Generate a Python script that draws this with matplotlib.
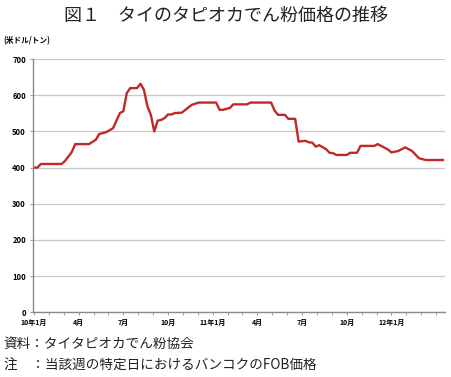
import matplotlib
matplotlib.use("Agg")
import matplotlib.pyplot as plt
from matplotlib.ticker import FixedLocator, NullFormatter

plt.rcParams['font.family'] = ['Noto Sans CJK JP', 'DejaVu Sans']

# weeks since the first week of January 2010
weeks = [0, 1, 2, 8, 9, 11, 12, 16, 18, 19, 21, 23, 25, 26, 27, 28, 30, 31, 32, 33,
         34, 35, 36, 37, 38, 39, 40, 41, 43, 45, 46, 48, 53, 54, 55, 57, 58, 62, 63,
         69, 70, 71, 73, 74, 76, 77, 79, 80, 81, 82, 83, 85, 86, 87, 88, 91, 92, 94,
         95, 99, 100, 101, 103, 104, 106, 108, 110, 112, 114, 119]
prices = [400, 400, 410, 410, 418, 443, 465, 465, 477, 493, 498, 509, 551, 556, 606,
          620, 620, 632, 615, 570, 546, 500, 530, 532, 537, 547, 547, 551, 552, 567,
          574, 580, 580, 560, 560, 565, 575, 575, 580, 580, 558, 546, 546, 535, 535,
          472, 474, 470, 469, 458, 462, 451, 441, 440, 435, 435, 441, 441, 460, 460,
          465, 460, 450, 442, 446, 456, 446, 426, 421, 421]

tick_weeks = [0, 13, 26, 39, 52, 65, 78, 91, 104]
tick_labels = ["10年1月", "4月", "7月", "10月", "11年1月", "4月", "7月", "10月", "12年1月"]
month_weeks = [i * 52 / 12 for i in range(28)]

yticks = [0, 100, 200, 300, 400, 500, 600, 700]

fig = plt.figure(figsize=(4.51, 3.77), dpi=100)
ax = fig.add_axes([0.073, 0.172, 0.913, 0.671])

ax.plot(weeks, prices, color="#C0282A", lw=1.7, solid_joinstyle="round")

ax.set_ylim(0, 700)
ax.set_xlim(-0.3, 119.5)
ax.set_yticks(yticks)
ax.yaxis.grid(True, color="#C8C8C8", lw=0.9)
ax.set_axisbelow(True)
for s in ["top", "right"]:
    ax.spines[s].set_visible(False)
ax.spines["left"].set_color("#8A8A8A")
ax.spines["bottom"].set_color("#8A8A8A")
ax.spines["left"].set_linewidth(1.0)
ax.spines["bottom"].set_linewidth(1.0)

narrow = ['Liberation Sans Narrow', 'Noto Sans CJK JP', 'DejaVu Sans']
ax.set_yticklabels([str(v) for v in yticks], family=narrow, fontsize=5.5, fontweight="bold")
ax.tick_params(axis="y", length=2, width=0.6, color="#8A8A8A", pad=3)

ax.xaxis.set_major_locator(FixedLocator(tick_weeks))
ax.set_xticklabels(tick_labels, family=narrow, fontsize=5, fontweight="bold")
ax.xaxis.set_minor_locator(FixedLocator(month_weeks))
ax.xaxis.set_minor_formatter(NullFormatter())
ax.tick_params(axis="x", which="both", length=2, width=0.6, color="#8A8A8A", pad=3)

fig.text(0.5, 0.958, "図１　タイのタピオカでん粉価格の推移", ha="center", va="center",
         fontsize=13, fontweight="normal", color="#222222")
fig.text(0.007, 0.893, "(米ドル/トン)", ha="left", va="center", family=narrow,
         fontsize=5.5, fontweight="bold")
fig.text(0.008, 0.088, "資料：タイタピオカでん粉協会", ha="left", va="center", fontsize=9.8,
         color="#222222")
fig.text(0.008, 0.030, "注　：当該週の特定日におけるバンコクのFOB価格", ha="left", va="center",
         fontsize=9.8, color="#222222")

fig.savefig("out.png", dpi=100)
